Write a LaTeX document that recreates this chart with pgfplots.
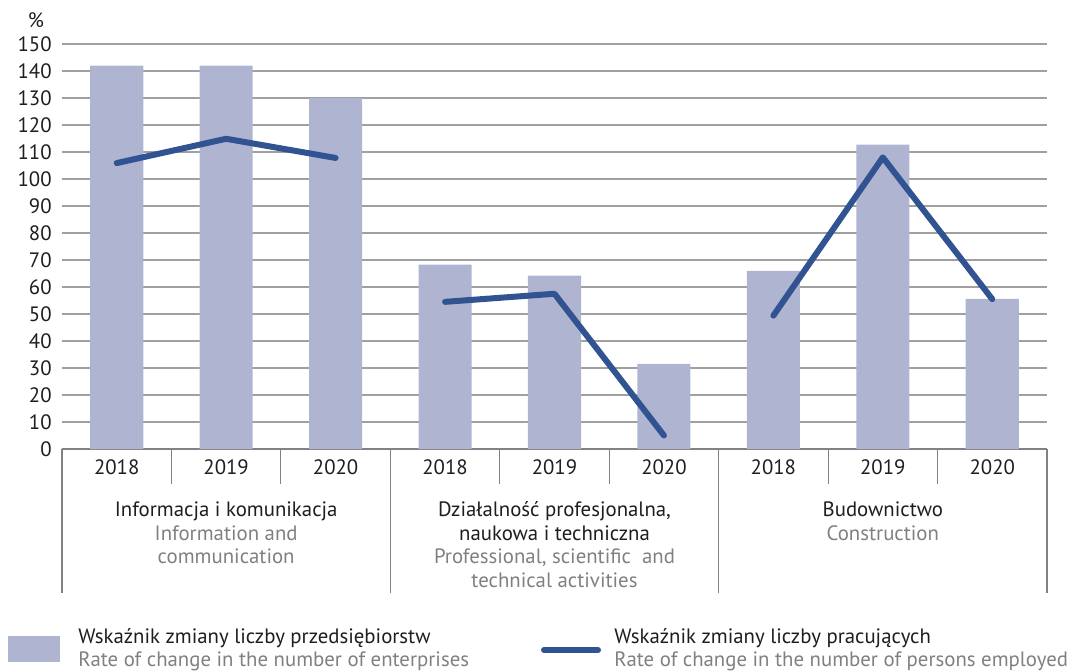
\documentclass[border=0pt]{standalone}
\usepackage{fontspec}
\setmainfont{PT Sans}
\usepackage{pgfplots}
\pgfplotsset{compat=1.18}
\definecolor{barc}{RGB}{175,180,209}
\definecolor{linec}{RGB}{50,83,145}
\definecolor{txt}{RGB}{30,30,30}
\definecolor{gtxt}{RGB}{128,128,128}
\definecolor{gridc}{RGB}{160,160,160}
\definecolor{axc}{RGB}{130,130,130}
\begin{document}
\begin{tikzpicture}[font=\fontsize{10.4}{12.5}\selectfont, x=1pt, y=1pt]
\useasboundingbox (-31,-111) rectangle (504.5,224.5);
\begin{axis}[
  at={(0,0)}, anchor=south west,
  scale only axis, width=492.5pt, height=202.5pt,
  xmin=-0.5, xmax=8.5, ymin=0, ymax=150,
  ytick={0,10,...,150},
  xtick={0,...,8},
  xticklabels={2018,2019,2020,2018,2019,2020,2018,2019,2020},
  axis x line*=bottom, axis y line*=left,
  y axis line style={draw=none},
  x axis line style={draw=axc, line width=0.6pt, -},
  major tick length=0pt,
  ymajorgrids, grid style={draw=gridc, line width=0.65pt},
  /pgf/number format/assume math mode=true,
  yticklabel style={anchor=east, inner sep=0pt, xshift=-5pt, text=txt},
  xticklabel style={anchor=center, inner sep=0pt, yshift=-9pt, text=txt},
  clip=false,
]
\addplot[ybar, bar width=0.485, fill=barc, draw=none] coordinates {(0,142) (1,142) (2,130) (3,68.3) (4,64.2) (5,31.5) (6,66) (7,112.7) (8,55.6)};
\addplot[linec, line width=3pt, line cap=round, line join=round, mark=none] coordinates {(0,105.9) (1,114.9) (2,107.8)};
\addplot[linec, line width=3pt, line cap=round, line join=round, mark=none] coordinates {(3,54.5) (4,57.5) (5,5.0)};
\addplot[linec, line width=3pt, line cap=round, line join=round, mark=none] coordinates {(6,49.4) (7,108) (8,55.5)};
% table lines
\draw[axc, line width=0.6pt] (axis cs:-0.5,0) -- ++(0pt,-72pt);
\draw[axc, line width=0.6pt] (axis cs:2.5,0) -- ++(0pt,-72pt);
\draw[axc, line width=0.6pt] (axis cs:5.5,0) -- ++(0pt,-72pt);
\draw[axc, line width=0.6pt] (axis cs:8.5,0) -- ++(0pt,-72pt);
\draw[axc, line width=0.6pt] (axis cs:0.5,0) -- ++(0pt,-17.5pt);
\draw[axc, line width=0.6pt] (axis cs:1.5,0) -- ++(0pt,-17.5pt);
\draw[axc, line width=0.6pt] (axis cs:3.5,0) -- ++(0pt,-17.5pt);
\draw[axc, line width=0.6pt] (axis cs:4.5,0) -- ++(0pt,-17.5pt);
\draw[axc, line width=0.6pt] (axis cs:6.5,0) -- ++(0pt,-17.5pt);
\draw[axc, line width=0.6pt] (axis cs:7.5,0) -- ++(0pt,-17.5pt);
% group labels
\node[anchor=base, text=txt] at ([yshift=-33.5pt]axis cs:1,0) {Informacja i komunikacja};
\node[anchor=base, text=gtxt] at ([yshift=-45.5pt]axis cs:1,0) {Information and};
\node[anchor=base, text=gtxt] at ([yshift=-57pt]axis cs:1,0) {communication};
\node[anchor=base, text=txt] at ([yshift=-33.5pt]axis cs:4,0) {Działalność profesjonalna,};
\node[anchor=base, text=txt] at ([yshift=-45.5pt]axis cs:4,0) {naukowa i techniczna};
\node[anchor=base, text=gtxt] at ([yshift=-57pt]axis cs:4,0) {Professional, scientific\ \ and};
\node[anchor=base, text=gtxt] at ([yshift=-69pt]axis cs:4,0) {technical activities};
\node[anchor=base, text=txt] at ([yshift=-33.5pt]axis cs:7,0) {Budownictwo};
\node[anchor=base, text=gtxt] at ([yshift=-45.5pt]axis cs:7,0) {Construction};
\end{axis}
\node[text=txt] at (-13,214.5) {\%};
% legend
\fill[barc] (-26.85,-93.5) rectangle (-1,-106.5);
\node[anchor=base west, inner sep=0pt, text=txt] at (8,-97) {Wskaźnik zmiany liczby przedsiębiorstw};
\node[anchor=base west, inner sep=0pt, text=gtxt] at (8,-108.5) {Rate of change in the number of enterprises};
\draw[linec, line width=3pt, line cap=round] (241,-100.5) -- (268,-100.5);
\node[anchor=base west, inner sep=0pt, text=txt] at (276,-97) {Wskaźnik zmiany liczby pracujących};
\node[anchor=base west, inner sep=0pt, text=gtxt] at (276,-108.5) {Rate of change in the number of persons employed};
\end{tikzpicture}
\end{document}
